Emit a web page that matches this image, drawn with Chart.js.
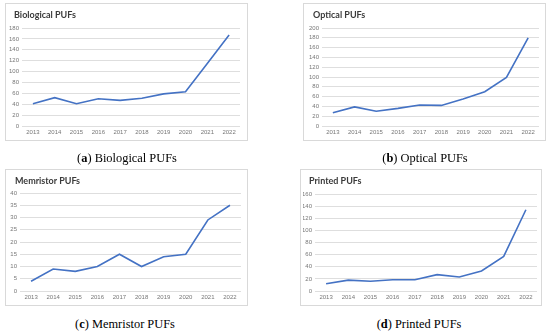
<!DOCTYPE html>
<html>
<head>
<meta charset="utf-8">
<script src="https://cdn.jsdelivr.net/npm/chart.js@4"></script>
<style>
  body { margin: 0; background: #fff; width: 550px; height: 336px; position: relative; overflow: hidden; }
  .box { position: absolute; border: 1px solid #d9d9d9; box-sizing: border-box; background: #fff; }
  .box canvas { position: absolute; left: 0; top: 0; }
  .title { position: absolute; font: bold 9px Lato, "Open Sans", sans-serif; color: #3a3a3a; line-height: 10px; white-space: nowrap; }
  .cap { position: absolute; font: 12.4px "Liberation Serif", "DejaVu Serif", serif; color: #000; white-space: nowrap; transform: translate(-50%, -50%); }
</style>
</head>
<body>

<div class="box" id="boxA" style="left:5px;top:3px;width:243px;height:138px"><canvas id="chartA"></canvas></div>
<div class="box" id="boxB" style="left:303px;top:3px;width:243px;height:138px"><canvas id="chartB"></canvas></div>
<div class="box" id="boxC" style="left:5px;top:169px;width:243px;height:137px"><canvas id="chartC"></canvas></div>
<div class="box" id="boxD" style="left:300px;top:169px;width:242px;height:137px"><canvas id="chartD"></canvas></div>

<div class="title" style="left:14px;top:10px">Biological PUFs</div>
<div class="title" style="left:313px;top:10px">Optical PUFs</div>
<div class="title" style="left:15px;top:176px">Memristor PUFs</div>
<div class="title" style="left:309px;top:176px">Printed PUFs</div>

<div class="cap" style="left:127px;top:158px">(<b>a</b>) Biological PUFs</div>
<div class="cap" style="left:425px;top:158px">(<b>b</b>) Optical PUFs</div>
<div class="cap" style="left:125px;top:324px">(<b>c</b>) Memristor PUFs</div>
<div class="cap" style="left:419px;top:324px">(<b>d</b>) Printed PUFs</div>

<script>
"use strict";

// Data

const YEARS = ["2013", "2014", "2015", "2016", "2017", "2018", "2019", "2020", "2021", "2022"];

const BIOLOGICAL = [41, 52, 41, 50, 47, 51, 59, 63, 115, 167];
const OPTICAL    = [27, 39, 30, 36, 43, 42, 55, 70, 99, 180];
const MEMRISTOR  = [4, 9, 8, 10, 15, 10, 14, 15, 29, 35];
const PRINTED    = [12, 18, 16, 18.5, 18.5, 27, 23, 33, 57, 134];

const Y_MAX_A = 180, Y_STEP_A = 20;
const Y_MAX_B = 200, Y_STEP_B = 20;
const Y_MAX_C = 40,  Y_STEP_C = 5;
const Y_MAX_D = 160, Y_STEP_D = 20;


// One small Excel-style line chart per panel

function makeChart(id, values, yMax, yStep, area) {
    let canvas = document.getElementById(id);
    canvas.width = area.w;
    canvas.height = area.h;
    canvas.style.width = area.w + "px";
    canvas.style.height = area.h + "px";

    return new Chart(canvas.getContext("2d"), {
        type: "line",
        data: {
            labels: YEARS,
            datasets: [{
                data: values,
                borderColor: "#4472c4",
                borderWidth: 1.6,
                pointRadius: 0,
                tension: 0,
                fill: false
            }]
        },
        options: {
            responsive: false,
            animation: false,
            devicePixelRatio: 1,
            layout: {
                padding: { left: 2, right: area.right, top: area.top, bottom: 3 }
            },
            plugins: {
                legend: { display: false },
                tooltip: { enabled: false },
                title: { display: false }
            },
            scales: {
                x: {
                    offset: true,
                    grid: { display: false, drawTicks: false },
                    border: { display: false },
                    ticks: {
                        color: "#777777",
                        font: { family: "Liberation Sans", size: 6 },
                        padding: 3,
                        maxRotation: 0,
                        autoSkip: false
                    },
                    afterFit: function(scale) { scale.height = 11; }
                },
                y: {
                    min: 0,
                    max: yMax,
                    grid: { color: "#dedede", lineWidth: 1, drawTicks: false },
                    border: { display: false },
                    ticks: {
                        stepSize: yStep,
                        autoSkip: false,
                        color: "#777777",
                        font: { family: "Liberation Sans", size: 6 },
                        padding: 3
                    },
                    afterFit: function(scale) { scale.width = area.left - 2; }
                }
            }
        }
    });
}

makeChart("chartA", BIOLOGICAL, Y_MAX_A, Y_STEP_A, { w: 241, h: 136, left: 16, right: 7, top: 24 });
makeChart("chartB", OPTICAL,    Y_MAX_B, Y_STEP_B, { w: 241, h: 136, left: 18, right: 6, top: 24 });
makeChart("chartC", MEMRISTOR,  Y_MAX_C, Y_STEP_C, { w: 241, h: 135, left: 14, right: 6, top: 23 });
makeChart("chartD", PRINTED,    Y_MAX_D, Y_STEP_D, { w: 240, h: 135, left: 14, right: 4, top: 24 });
</script>
</body>
</html>
